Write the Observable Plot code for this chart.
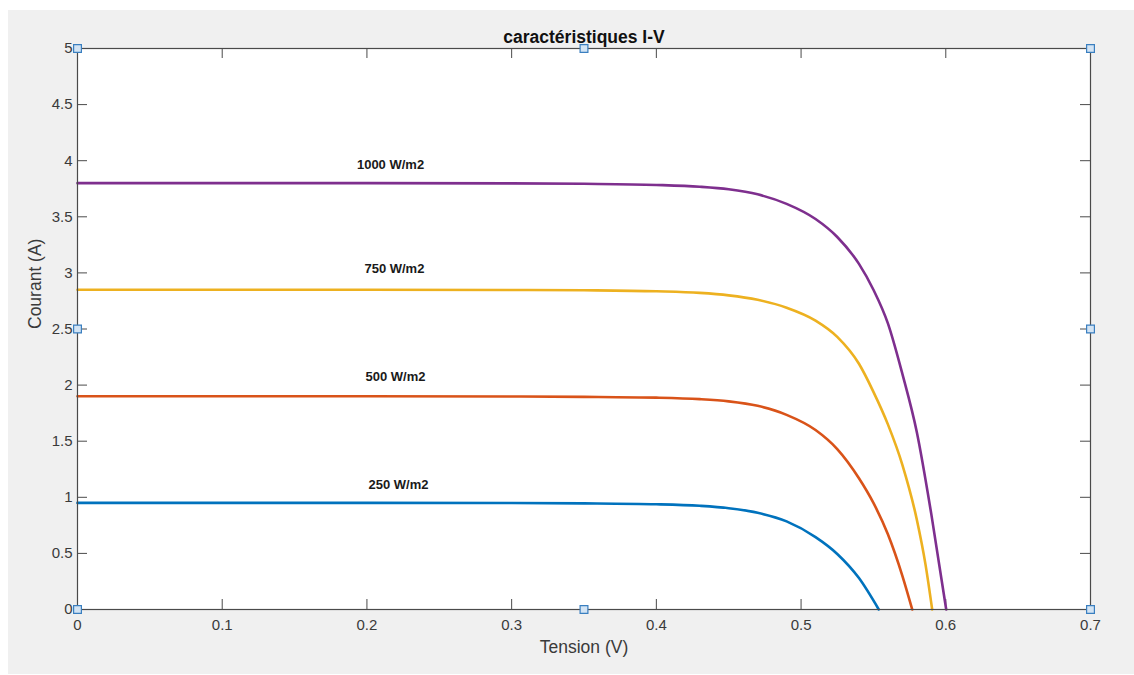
<!DOCTYPE html>
<html>
<head>
<meta charset="utf-8">
<script src="https://cdn.jsdelivr.net/npm/d3@7"></script>
<script src="https://cdn.jsdelivr.net/npm/@observablehq/plot@0.6"></script>
<style>
  html, body { margin: 0; padding: 0; background: #ffffff; }
  #fig { position: relative; width: 1134px; height: 675px; overflow: hidden; }
  #panel { position: absolute; left: 8px; top: 10px; right: 0; bottom: 1px; background: #f0f0f0; }
  #chart { position: absolute; left: 0; top: 0; }
  #chart svg { background: transparent; }
</style>
</head>
<body>
<div id="fig"><div id="panel"></div><div id="chart"></div></div>
<script>
// I-V characteristics of a PV cell for four irradiance levels: [voltage (V), current (A)]
const curve250 = [[0,0.95],[0.1,0.95],[0.2,0.95],[0.3,0.949],[0.35,0.946],[0.40,0.938],[0.43,0.924],[0.45,0.903],[0.47,0.862],[0.49,0.785],[0.51,0.645],[0.525,0.495],[0.54,0.28],[0.5537,0]];
const curve500 = [[0,1.90],[0.1,1.90],[0.2,1.90],[0.3,1.898],[0.35,1.895],[0.40,1.888],[0.43,1.875],[0.45,1.855],[0.47,1.815],[0.49,1.735],[0.51,1.60],[0.525,1.43],[0.54,1.17],[0.55,0.95],[0.56,0.67],[0.57,0.30],[0.5768,0]];
const curve750 = [[0,2.85],[0.1,2.85],[0.2,2.85],[0.3,2.848],[0.35,2.845],[0.40,2.836],[0.43,2.822],[0.45,2.80],[0.47,2.76],[0.49,2.69],[0.51,2.575],[0.525,2.43],[0.54,2.19],[0.55,1.94],[0.56,1.65],[0.57,1.29],[0.58,0.80],[0.586,0.40],[0.5906,0]];
const curve1000 = [[0,3.80],[0.1,3.80],[0.2,3.80],[0.3,3.798],[0.35,3.794],[0.40,3.784],[0.43,3.768],[0.45,3.745],[0.47,3.70],[0.49,3.615],[0.51,3.48],[0.525,3.32],[0.54,3.08],[0.55,2.85],[0.56,2.55],[0.57,2.10],[0.58,1.58],[0.59,0.85],[0.6003,0]];

const seriesNames = ["250 W/m2", "500 W/m2", "750 W/m2", "1000 W/m2"];
const seriesColors = ["#0072BD", "#D95319", "#EDB120", "#7E2F8E"];
const curves = [curve250, curve500, curve750, curve1000];

// Curve annotations: [voltage, current] anchor of each label
const labelPos = [[0.2218, 1.11], [0.2197, 2.075], [0.2190, 3.04], [0.2163, 3.966]];

const xTicks = [0, 0.1, 0.2, 0.3, 0.4, 0.5, 0.6, 0.7];
const yTicks = [0, 0.5, 1, 1.5, 2, 2.5, 3, 3.5, 4, 4.5, 5];

// Editing handles around the axes box
const handles = [[0,0],[0.35,0],[0.7,0],[0,2.5],[0.7,2.5],[0,5],[0.35,5],[0.7,5]];

const rows = curves.flatMap((c, k) => c.map(([v, i]) => ({v, i, s: seriesNames[k]})));
const labels = seriesNames.map((s, k) => ({s, v: labelPos[k][0], i: labelPos[k][1]}));

const W = 1134, H = 675;
const mL = 77, mR = 44, mT = 48, mB = 66;
const plotW = W - mL - mR, plotH = H - mT - mB;
const tickLen = 10;
const axisColor = "#4a4a4a";
const textColor = "#3a3a3a";
const font = "'Liberation Sans', Arial, Helvetica, sans-serif";

const chart = Plot.plot({
  width: W,
  height: H,
  marginLeft: mL, marginRight: mR, marginTop: mT, marginBottom: mB,
  style: {fontFamily: font, background: "transparent", color: textColor},
  x: {domain: [0, 0.7], ticks: xTicks, tickFormat: d => String(d), label: null},
  y: {domain: [0, 5], ticks: yTicks, tickFormat: d => String(d), label: null},
  color: {domain: seriesNames, range: seriesColors},
  marks: [
    Plot.frame({fill: "white", stroke: null}),
    // inward ticks on all four sides
    Plot.tickX(xTicks, {x: d => d, insetTop: plotH - tickLen, stroke: axisColor}),
    Plot.tickX(xTicks, {x: d => d, insetBottom: plotH - tickLen, stroke: axisColor}),
    Plot.tickY(yTicks, {y: d => d, insetRight: plotW - tickLen, stroke: axisColor}),
    Plot.tickY(yTicks, {y: d => d, insetLeft: plotW - tickLen, stroke: axisColor}),
    Plot.axisX({ticks: xTicks, tickFormat: d => String(d), tickSize: 0, tickPadding: 10, fontSize: 15, fill: textColor, label: null}),
    Plot.axisY({ticks: yTicks, tickFormat: d => String(d), tickSize: 0, tickPadding: 5, fontSize: 15, fill: textColor, label: null}),
    Plot.line(rows, {x: "v", y: "i", z: "s", stroke: "s", strokeWidth: 2.6, curve: "monotone-x"}),
    Plot.text(labels, {x: "v", y: "i", text: "s", fontSize: 13, fontWeight: "bold", fill: "#1a1a1a"}),
    Plot.frame({stroke: axisColor, strokeWidth: 1.2}),
    Plot.dot(handles, {x: d => d[0], y: d => d[1], symbol: "square", r: 4.4, fill: "#d3e4f4", stroke: "#3a7fc0", strokeWidth: 1.2}),
    Plot.text(["caractéristiques I-V"], {frameAnchor: "top", dy: -18, fontSize: 17.5, fontWeight: "bold", fill: "#111111"}),
    Plot.text(["Tension (V)"], {frameAnchor: "bottom", dy: 43, fontSize: 17.5, fill: textColor}),
    Plot.text(["Courant (A)"], {frameAnchor: "left", dx: -42, rotate: -90, fontSize: 17.5, fill: textColor})
  ]
});
document.getElementById("chart").appendChild(chart);
</script>
</body>
</html>
